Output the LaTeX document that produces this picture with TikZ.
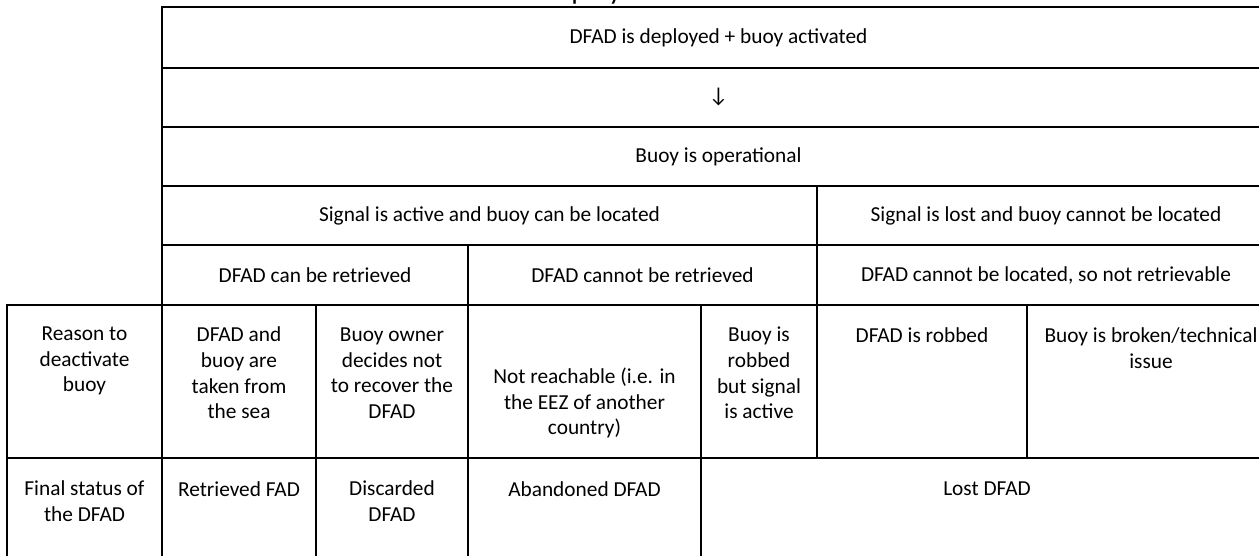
\documentclass[tikz,border=0pt]{standalone}
\usepackage{fontspec}
\setmainfont{Carlito}
\begin{document}
\begin{tikzpicture}[x=0.75pt,y=-0.75pt,
  gridline/.style={line width=1.5pt, line cap=rect},
  txt/.style={font=\fontsize{16}{19.2}\selectfont, align=center, inner sep=0pt}]
\useasboundingbox (0,0) rectangle (1259,556);
\clip (0,0) rectangle (1259,556);
% horizontal rules
\draw[gridline] (162,7) -- (1290,7);
\draw[gridline] (162,68) -- (1290,68);
\draw[gridline] (162,127) -- (1290,127);
\draw[gridline] (162,186) -- (1290,186);
\draw[gridline] (162,245) -- (1290,245);
\draw[gridline] (7,305) -- (1290,305);
\draw[gridline] (7,458) -- (1290,458);
% vertical rules
\draw[gridline] (162,7) -- (162,570);
\draw[gridline] (7,305) -- (7,570);
\draw[gridline] (817,186) -- (817,458);
\draw[gridline] (468,245) -- (468,570);
\draw[gridline] (316,305) -- (316,570);
\draw[gridline] (701,305) -- (701,570);
\draw[gridline] (1027,305) -- (1027,458);
% clipped caption fragment at the top
\node[txt, font=\fontsize{22}{26}\selectfont, anchor=base west] (frag) at (571,0) {ploy};
% rows 1-5
\node[txt] (deployed) at (718.5,37.5) {DFAD is deployed + buoy activated};
\node[txt] (arrow) at (718.5,97.5) {↓};
\node[txt] (operational) at (718.5,156.5) {Buoy is operational};
\node[txt] (active) at (489.5,215.5) {Signal is active and buoy can be located};
\node[txt] (lost) at (1046,215.5) {Signal is lost and buoy cannot be located};
\node[txt] (canret) at (315,275) {DFAD can be retrieved};
\node[txt] (cannotret) at (642.5,275) {DFAD cannot be retrieved};
\node[txt] (cannotloc) at (1046,275) {DFAD cannot be located, so not retrievable};
% row 6
\node[txt] (reason) at (84.5,361) {Reason to\\deactivate\\buoy};
\node[txt] (taken) at (239,373) {DFAD and\\buoy are\\taken from\\the sea};
\node[txt] (owner) at (392,373) {Buoy owner\\decides not\\to recover the\\DFAD};
\node[txt] (reach) at (584.5,403) {Not reachable (i.e. in\\the EEZ of another\\country)};
\node[txt] (brobbed) at (759,373) {Buoy is\\robbed\\but signal\\is active};
\node[txt] (drobbed) at (922,335) {DFAD is robbed};
\node[txt] (broken) at (1151,348) {Buoy is broken/technical\\issue};
% row 7
\node[txt] (final) at (84.5,501) {Final status of\\the DFAD};
\node[txt] (retrieved) at (239,489) {Retrieved FAD};
\node[txt] (discarded) at (392,501) {Discarded\\DFAD};
\node[txt] (abandoned) at (584.5,489) {Abandoned DFAD};
\node[txt] (lostdfad) at (987,489) {Lost DFAD};
\end{tikzpicture}
\end{document}
